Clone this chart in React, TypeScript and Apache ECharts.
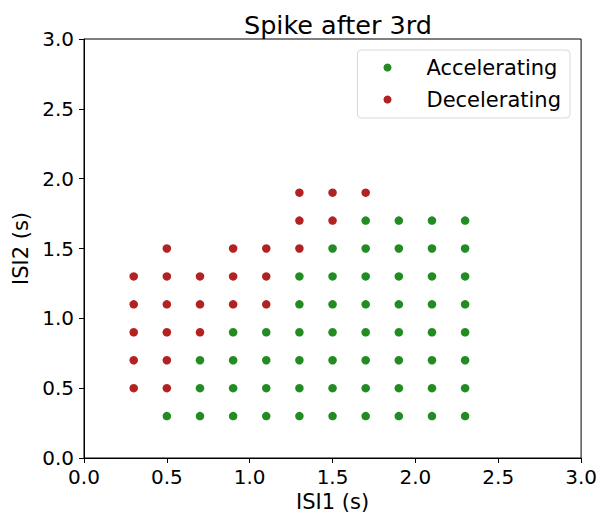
import React, { useEffect, useRef } from "react";
import * as echarts from "echarts";

const accelerating: [number, number][] = [
  [0.5, 0.3],
  [0.7, 0.3], [0.7, 0.5], [0.7, 0.7],
  [0.9, 0.3], [0.9, 0.5], [0.9, 0.7], [0.9, 0.9],
  [1.1, 0.3], [1.1, 0.5], [1.1, 0.7], [1.1, 0.9],
  [1.3, 0.3], [1.3, 0.5], [1.3, 0.7], [1.3, 0.9], [1.3, 1.1], [1.3, 1.3],
  [1.5, 0.3], [1.5, 0.5], [1.5, 0.7], [1.5, 0.9], [1.5, 1.1], [1.5, 1.3], [1.5, 1.5],
  [1.7, 0.3], [1.7, 0.5], [1.7, 0.7], [1.7, 0.9], [1.7, 1.1], [1.7, 1.3], [1.7, 1.5], [1.7, 1.7],
  [1.9, 0.3], [1.9, 0.5], [1.9, 0.7], [1.9, 0.9], [1.9, 1.1], [1.9, 1.3], [1.9, 1.5], [1.9, 1.7],
  [2.1, 0.3], [2.1, 0.5], [2.1, 0.7], [2.1, 0.9], [2.1, 1.1], [2.1, 1.3], [2.1, 1.5], [2.1, 1.7],
  [2.3, 0.3], [2.3, 0.5], [2.3, 0.7], [2.3, 0.9], [2.3, 1.1], [2.3, 1.3], [2.3, 1.5], [2.3, 1.7],
];

const decelerating: [number, number][] = [
  [0.3, 0.5], [0.3, 0.7], [0.3, 0.9], [0.3, 1.1], [0.3, 1.3],
  [0.5, 0.5], [0.5, 0.7], [0.5, 0.9], [0.5, 1.1], [0.5, 1.3], [0.5, 1.5],
  [0.7, 0.9], [0.7, 1.1], [0.7, 1.3],
  [0.9, 1.1], [0.9, 1.3], [0.9, 1.5],
  [1.1, 1.1], [1.1, 1.3], [1.1, 1.5],
  [1.3, 1.5], [1.3, 1.7], [1.3, 1.9],
  [1.5, 1.7], [1.5, 1.9],
  [1.7, 1.9],
];

const seriesNames = ["Accelerating", "Decelerating"];
const title = "Spike after 3rd";
const xName = "ISI1 (s)";
const yName = "ISI2 (s)";

const FONT = "DejaVu Sans";

export default function App() {
  const ref = useRef<HTMLDivElement>(null);
  useEffect(() => {
    if (!ref.current) return;
    const chart = echarts.init(ref.current, null, { renderer: "svg" });
    const axisCommon = {
      type: "value" as const,
      min: 0,
      max: 3,
      interval: 0.5,
      splitLine: { show: false },
      axisLine: { show: true, lineStyle: { color: "#000", width: 1 } },
      axisTick: { show: true, inside: false, length: 5, lineStyle: { color: "#000", width: 1 } },
      axisLabel: {
        color: "#000",
        fontFamily: FONT,
        fontSize: 20,
        formatter: (v: number) => v.toFixed(1),
      },
      nameLocation: "middle" as const,
      nameTextStyle: { color: "#000", fontFamily: FONT, fontSize: 21 },
    };
    chart.setOption({
      animation: false,
      backgroundColor: "#fff",
      title: {
        text: title,
        left: 333,
        textAlign: "center",
        top: 7,
        textStyle: { fontFamily: FONT, fontSize: 25.5, fontWeight: "normal", color: "#000" },
      },
      grid: {
        left: 84,
        right: 18,
        top: 39,
        bottom: 61,
        show: true,
        borderColor: "#000",
        borderWidth: 1,
        backgroundColor: "transparent",
      },
      legend: {
        orient: "vertical",
        right: 30,
        top: 50,
        itemWidth: 8,
        itemHeight: 8,
        itemGap: 11,
        icon: "circle",
        padding: [7, 9, 8, 26],
        borderColor: "#d9d9d9",
        borderWidth: 1,
        borderRadius: 4,
        backgroundColor: "rgba(255,255,255,0.8)",
        textStyle: { fontFamily: FONT, fontSize: 21, color: "#000", padding: [0, 0, 0, 30] },
        data: seriesNames,
      },
      xAxis: {
        ...axisCommon,
        name: xName,
        nameGap: 28,
        axisLabel: { ...axisCommon.axisLabel, margin: 9 },
      },
      yAxis: {
        ...axisCommon,
        name: yName,
        nameGap: 47,
        axisLabel: { ...axisCommon.axisLabel, margin: 10 },
      },
      series: [
        {
          name: seriesNames[0],
          type: "scatter",
          data: accelerating,
          symbolSize: 8.5,
          itemStyle: { color: "#228b22", opacity: 1 },
        },
        {
          name: seriesNames[1],
          type: "scatter",
          data: decelerating,
          symbolSize: 8.5,
          itemStyle: { color: "#b22222", opacity: 1 },
        },
      ],
    });
    return () => chart.dispose();
  }, []);
  return <div ref={ref} style={{ width: 600, height: 519, position: "absolute", left: 0, top: 0 }} />;
}
